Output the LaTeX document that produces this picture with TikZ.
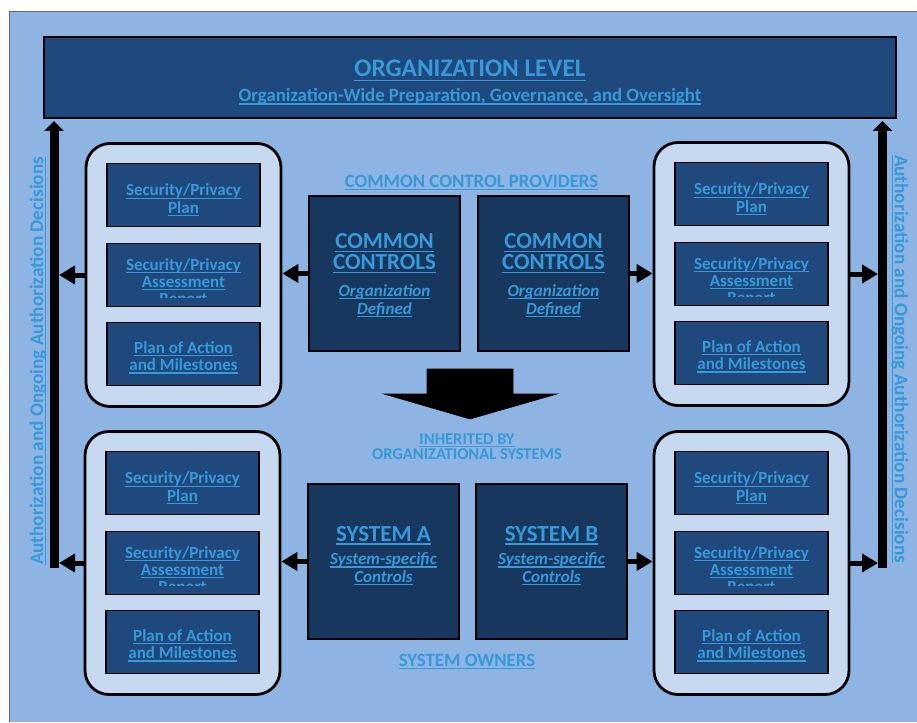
\documentclass[tikz,border=0pt]{standalone}
\usepackage{fontspec}
\setmainfont{Carlito}
\usetikzlibrary{arrows.meta}

\definecolor{pagebg}{RGB}{141,180,226}
\definecolor{navy}{RGB}{31,73,125}
\definecolor{deepnavy}{RGB}{23,55,94}
\definecolor{paleblue}{RGB}{198,217,241}
\definecolor{linkblue}{RGB}{55,153,218}

% underlined word group with a fixed rule position
\newcommand\ulx[1]{\leavevmode\setbox0=\hbox{#1}\rlap{\rule[-.17em]{\wd0}{.07em}}\box0}
% keep line spacing exact inside multi-line labels
\lineskiplimit=-50pt
\lineskip=0pt

\tikzset{
  lvlbox/.style={draw=black, line width=1.2pt, fill=navy, inner sep=0pt},
  docbox/.style={draw=black, line width=1.3pt, fill=navy, inner sep=0pt,
    minimum width=153pt, minimum height=63pt},
  doctext/.style={text=linkblue, align=center, inner sep=0pt,
    font=\fontsize{17}{17.3}\selectfont\bfseries},
  grpbox/.style={draw=black, line width=2.8pt, fill=paleblue, rounded corners=24pt,
    minimum width=195pt, minimum height=263pt, inner sep=0pt},
  ctlbox/.style={draw=black, line width=1.2pt, fill=deepnavy, inner sep=0pt,
    minimum width=151pt, minimum height=155pt},
  bigtext/.style={text=linkblue, align=center, inner sep=0pt,
    font=\fontsize{23}{21}\selectfont\bfseries},
  ittext/.style={text=linkblue, align=center, inner sep=0pt,
    font=\fontsize{17}{17.5}\selectfont\bfseries\itshape},
  caption/.style={text=linkblue, align=center, inner sep=0pt,
    font=\fontsize{18.8}{18}\selectfont\bfseries},
  flow/.style={line width=5pt, -{Triangle[length=16pt,width=18pt]}},
  trunk/.style={line width=9pt, -{Triangle[length=10pt,width=19pt]}},
}

\begin{document}
\begin{tikzpicture}[x=1pt,y=-1pt]
\useasboundingbox (0,0) rectangle (917,722);
\fill[pagebg] (9,11) rectangle (917,722);
\draw[black!60, line width=0.8pt] (9,722) -- (9,11) -- (917,11);

% organization level banner
\node[lvlbox, minimum width=852pt, minimum height=81pt] (org) at (470,77.5) {};
\node[bigtext, anchor=base, font=\fontsize{25.3}{24}\selectfont\bfseries] (orgTitle) at (470,77) {\ulx{ORGANIZATION LEVEL}};
\node[caption, anchor=base, font=\fontsize{18.8}{18}\selectfont\bfseries] (orgSub) at (470,101.5) {\ulx{Organization-Wide Preparation, Governance, and Oversight}};

% side trunks carrying authorization decisions up to the organization
\coordinate (lFoot) at (54,568);
\coordinate (lTip) at (54,121);
\coordinate (rFoot) at (882.5,568);
\coordinate (rTip) at (882.5,121);
\coordinate (lEdge) at (59,0);
\coordinate (rEdge) at (878,0);
\draw[trunk] (lFoot) -- (lTip);
\draw[trunk] (rFoot) -- (rTip);
\node[caption, rotate=90, font=\fontsize{19.2}{18}\selectfont\bfseries] (lAuth) at (38,361) {\ulx{Authorization and Ongoing Authorization Decisions}};
\node[caption, rotate=-90, font=\fontsize{19.2}{18}\selectfont\bfseries] (rAuth) at (900,359) {\ulx{Authorization and Ongoing Authorization Decisions}};

% document stacks
\foreach \g/\cx/\cy in {tl/183.5/275, tr/751.5/274, bl/182.5/563, br/751.5/563}{
  \node[grpbox] (\g) at (\cx,\cy) {};
  \node[docbox] (\g-plan) at (\cx,\cy-80) {};
  \node[doctext] (\g-planText) at (\cx,\cy-75) {\ulx{Security/Privacy}\\\ulx{Plan}};
  \node[docbox] (\g-sar) at (\cx,\cy) {};
  \begin{scope}
    \clip (\g-sar.north west) rectangle ([yshift=10pt]\g-sar.south east);
    \node[doctext] (\g-sarText) at (\cx,\cy+8) {\ulx{Security/Privacy}\\\ulx{Assessment}\\\ulx{Report}};
  \end{scope}
  \node[docbox] (\g-poam) at (\cx,\cy+79) {};
  \node[doctext] (\g-poamText) at (\cx,\cy+82.5) {\ulx{Plan of Action}\\\ulx{and Milestones}};
}

% common controls
\node[caption, anchor=base] (providers) at (471.5,187) {\ulx{COMMON CONTROL PROVIDERS}};
\node[ctlbox] (cc1) at (384.5,273.5) {};
\node[ctlbox] (cc2) at (553.5,273.5) {};
\foreach \c in {cc1,cc2}{
  \node[bigtext, anchor=base] (\c-title) at ([yshift=4.2pt]\c.center) {\ulx{COMMON}\\\ulx{CONTROLS}};
  \node[ittext, anchor=base] (\c-sub) at ([yshift=-40.5pt]\c.center) {\ulx{Organization}\\\ulx{Defined}};
}

% inheritance arrow
\path[fill=black, draw=black, line width=0.6pt, line join=miter]
  (427,369) -- (513,369) -- (513,394) -- (557,394) -- (470,419) -- (384,394) -- (427,394) -- cycle;
\node[caption, font=\fontsize{16.5}{15.4}\selectfont\bfseries] (inherit) at (467,447) {\ulx{INHERITED BY}\\ORGANIZATIONAL SYSTEMS};

% systems
\node[ctlbox] (sysA) at (383.5,561.5) {};
\node[ctlbox] (sysB) at (551.5,561.5) {};
\node[bigtext, anchor=base] (sysA-title) at (383.5,541) {\ulx{SYSTEM A}};
\node[bigtext, anchor=base] (sysB-title) at (551.5,541) {\ulx{SYSTEM B}};
\node[ittext] (sysA-sub) at (383.5,569) {\ulx{System-specific}\\\ulx{Controls}};
\node[ittext] (sysB-sub) at (551.5,569) {\ulx{System-specific}\\\ulx{Controls}};
\node[caption, anchor=base] (owners) at (467,666) {\ulx{SYSTEM OWNERS}};

% flows between controls, documents and trunks
\draw[flow] (cc1.west) -- (cc1.west -| tl.east);
\draw[flow] (tl.west) -- (tl.west -| lEdge);
\draw[flow] (cc2.east) -- (cc2.east -| tr.west);
\draw[flow] (tr.east) -- (tr.east -| rEdge);
\draw[flow] (sysA.west) -- (sysA.west -| bl.east);
\draw[flow] (bl.west) -- (bl.west -| lEdge);
\draw[flow] (sysB.east) -- (sysB.east -| br.west);
\draw[flow] (br.east) -- (br.east -| rEdge);
\end{tikzpicture}
\end{document}
